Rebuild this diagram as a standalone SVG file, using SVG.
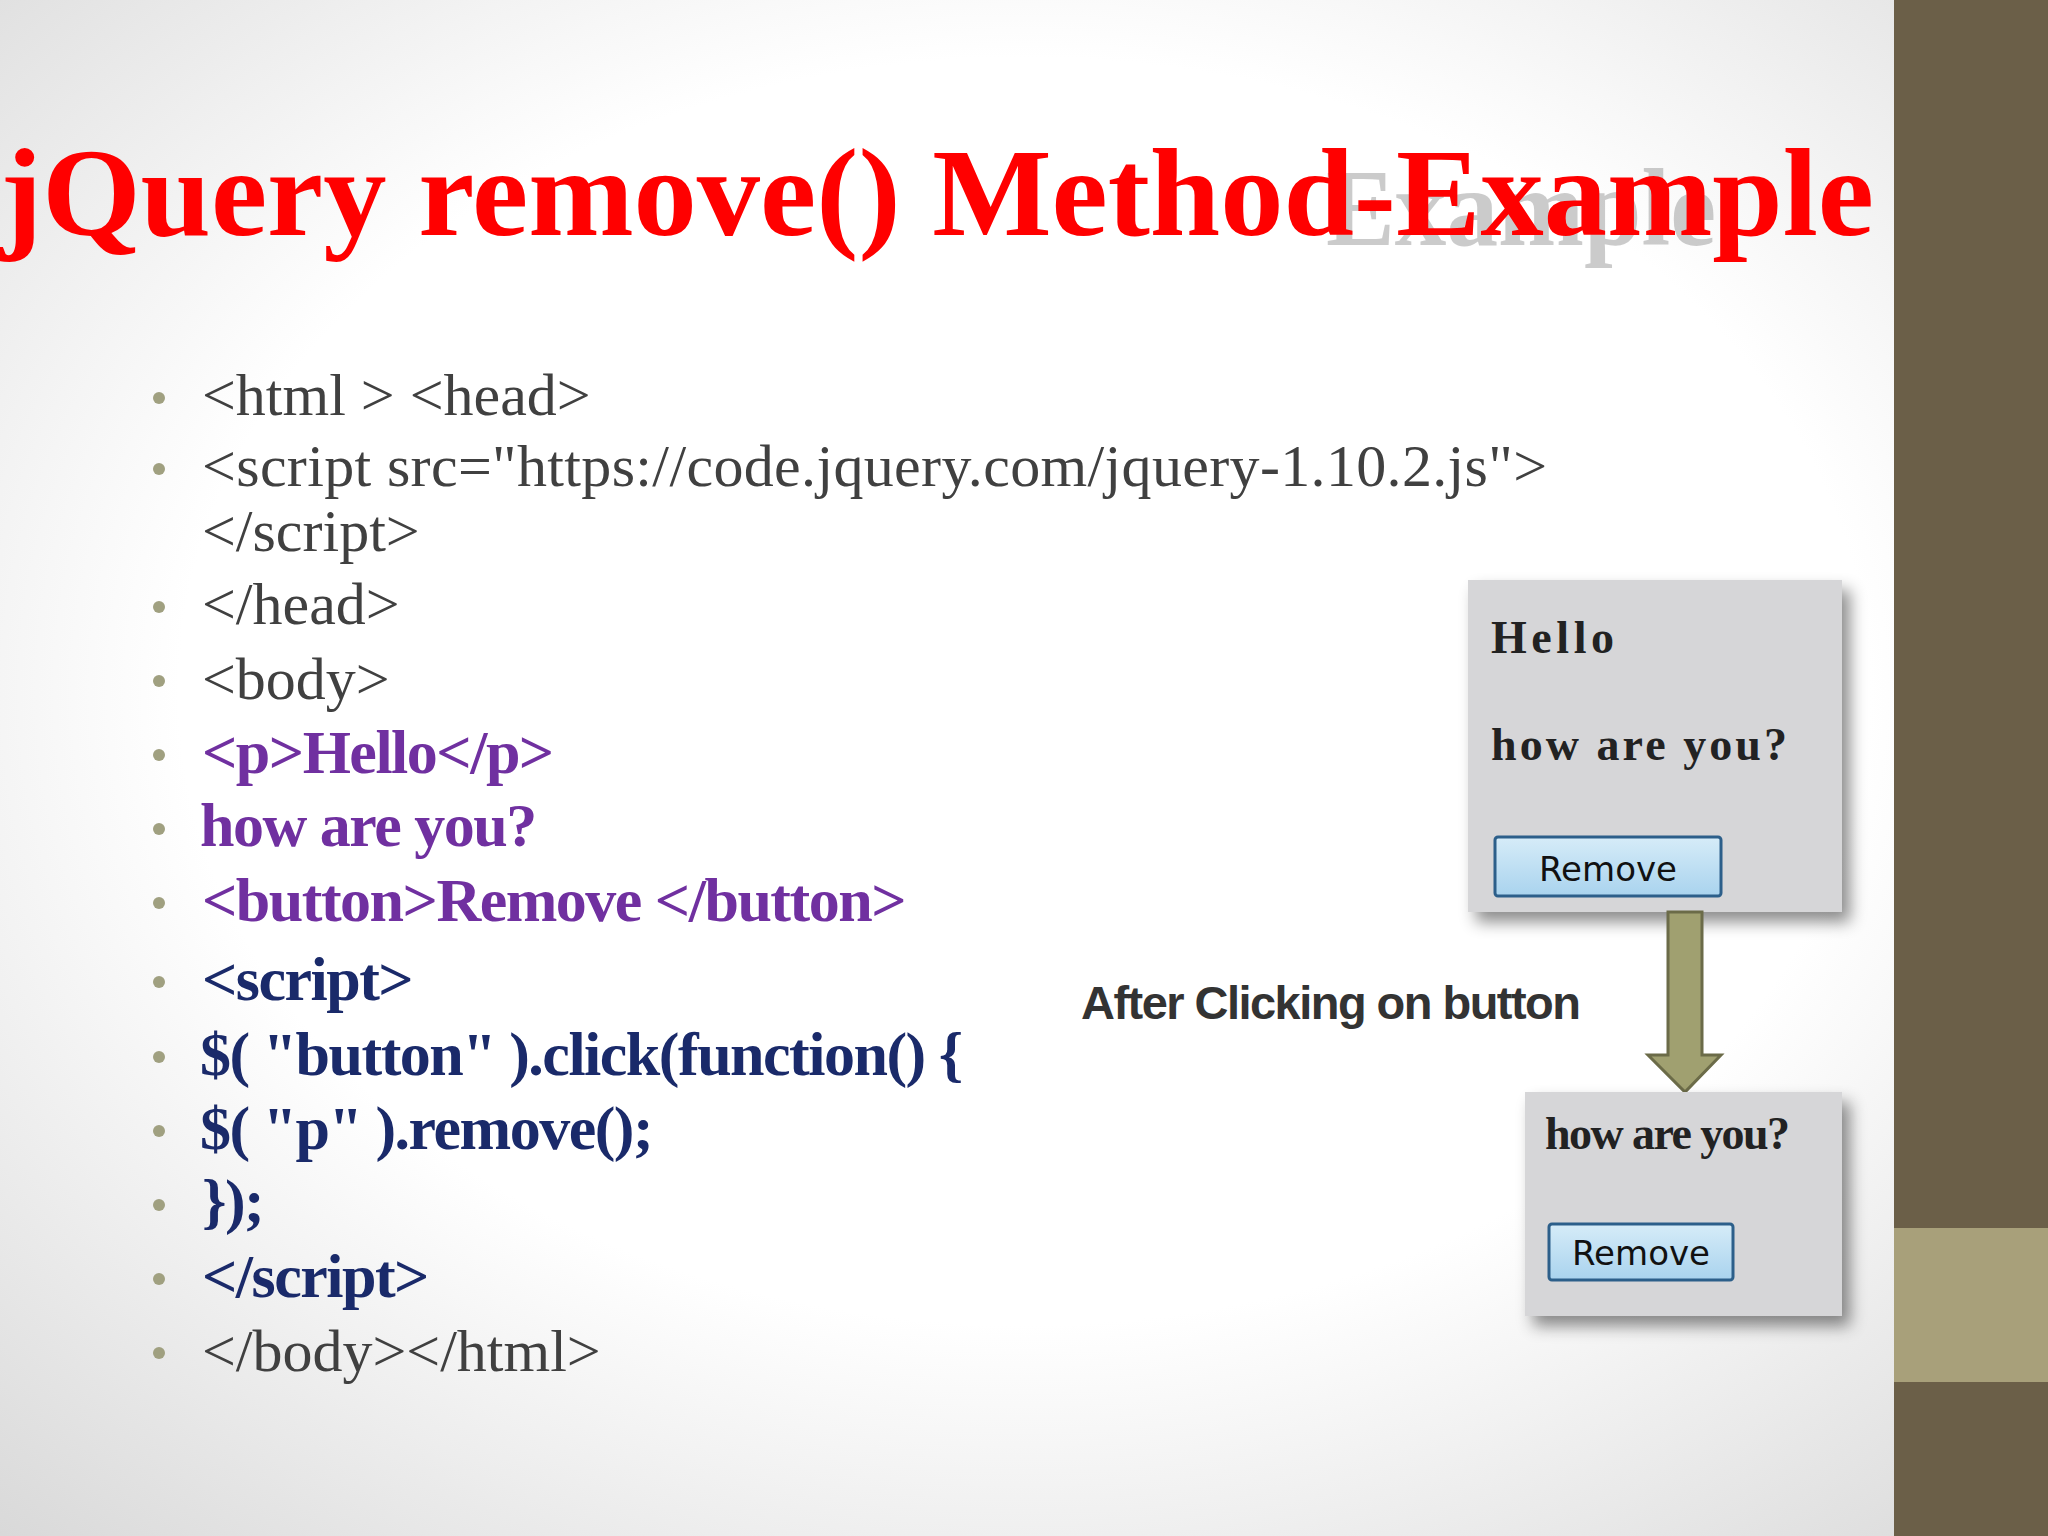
<svg xmlns="http://www.w3.org/2000/svg" width="2048" height="1536" viewBox="0 0 2048 1536">
<defs>
<radialGradient id="bg" cx="0.5" cy="0.45" r="0.75">
<stop offset="0.55" stop-color="#ffffff"/><stop offset="1" stop-color="#d8d8d8"/>
</radialGradient>
<linearGradient id="btn" x1="0" y1="0" x2="0" y2="1">
<stop offset="0" stop-color="#d6ecf8"/><stop offset="1" stop-color="#a9d3ee"/>
</linearGradient>
<filter id="sh" x="-10%" y="-10%" width="130%" height="130%"><feDropShadow dx="8" dy="10" stdDeviation="8" flood-color="#000" flood-opacity="0.45"/></filter>
<style>
.code{font-family:"Liberation Serif",serif;font-size:60px;fill:#404040}
.pur{font-weight:bold;fill:#7030a0;font-size:62px;letter-spacing:-1.5px}
.nav{font-weight:bold;fill:#1a2a6a;font-size:62px;letter-spacing:-1.5px}
.dot{fill:#a0a080}
.shot{font-family:"Liberation Serif",serif;font-size:46px;fill:#222;font-weight:bold}
.bt{font-family:"DejaVu Sans",sans-serif;font-size:34px;fill:#111}
</style>
</defs>
<rect width="2048" height="1536" fill="url(#bg)"/>
<rect x="1894" y="0" width="154" height="1536" fill="#6b5f48"/>
<rect x="1894" y="1228" width="154" height="154" fill="#a8a07a"/>
<text x="1326" y="245" font-family="Liberation Serif,serif" font-size="110" font-weight="bold" fill="#999" opacity="0.5" textLength="390" lengthAdjust="spacingAndGlyphs">Example</text>
<text x="0" y="235" font-family="Liberation Serif,serif" font-size="124" font-weight="bold" fill="#ff0000" textLength="1874" lengthAdjust="spacingAndGlyphs">jQuery remove() Method-Example</text>
<g id="code">
<g class="dot"><circle cx="159" cy="398" r="6"/><circle cx="159" cy="469" r="6"/><circle cx="159" cy="607" r="6"/><circle cx="159" cy="681" r="6"/><circle cx="159" cy="755" r="6"/><circle cx="159" cy="829" r="6"/><circle cx="159" cy="903" r="6"/><circle cx="159" cy="982" r="6"/><circle cx="159" cy="1057" r="6"/><circle cx="159" cy="1131" r="6"/><circle cx="159" cy="1205" r="6"/><circle cx="159" cy="1279" r="6"/><circle cx="159" cy="1353" r="6"/></g>
<text class="code" x="202" y="415">&lt;html &gt; &lt;head&gt;</text>
<text class="code" x="202" y="486" textLength="1345">&lt;script src="https://code.jquery.com/jquery-1.10.2.js"&gt;</text>
<text class="code" x="202" y="551">&lt;/script&gt;</text>
<text class="code" x="202" y="624">&lt;/head&gt;</text>
<text class="code" x="202" y="699">&lt;body&gt;</text>
<text class="code pur" x="202" y="773">&lt;p&gt;Hello&lt;/p&gt;</text>
<text class="code pur" x="200" y="846">how are you?</text>
<text class="code pur" x="202" y="921">&lt;button&gt;Remove &lt;/button&gt;</text>
<text class="code nav" x="202" y="1000">&lt;script&gt;</text>
<text class="code nav" x="200" y="1075">$( "button" ).click(function() {</text>
<text class="code nav" x="200" y="1149">$( "p" ).remove();</text>
<text class="code nav" x="202" y="1222">});</text>
<text class="code nav" x="202" y="1297">&lt;/script&gt;</text>
<text class="code" x="202" y="1371">&lt;/body&gt;&lt;/html&gt;</text>
</g>
<g id="shot1">
<rect x="1468" y="580" width="374" height="332" fill="#d6d6d8" filter="url(#sh)"/>
<text class="shot" x="1491" y="653" textLength="123">Hello</text>
<text class="shot" x="1491" y="760" textLength="296">how are you?</text>
<rect x="1495" y="837" width="226" height="59" rx="3" fill="url(#btn)" stroke="#2c5f8a" stroke-width="3"/>
<text class="bt" x="1608" y="881" text-anchor="middle" font-size="36">Remove</text>
</g>
<g id="connectors">
<polygon points="1668,912 1702,912 1702,1055 1721,1055 1685,1092 1648,1055 1668,1055" fill="#a0a070" stroke="#6b6b48" stroke-width="3"/>
</g>
<text x="1081" y="1019" font-family="Liberation Sans,sans-serif" font-size="47" font-weight="bold" fill="#333" letter-spacing="-2" textLength="498">After Clicking on button</text>
<g id="shot2">
<rect x="1525" y="1092" width="317" height="224" fill="#d6d6d8" filter="url(#sh)"/>
<text class="shot" x="1545" y="1149" font-size="42" textLength="245">how are you?</text>
<rect x="1549" y="1224" width="184" height="56" rx="3" fill="url(#btn)" stroke="#2c5f8a" stroke-width="3"/>
<text class="bt" x="1641" y="1265" text-anchor="middle">Remove</text>
</g>
</svg>
